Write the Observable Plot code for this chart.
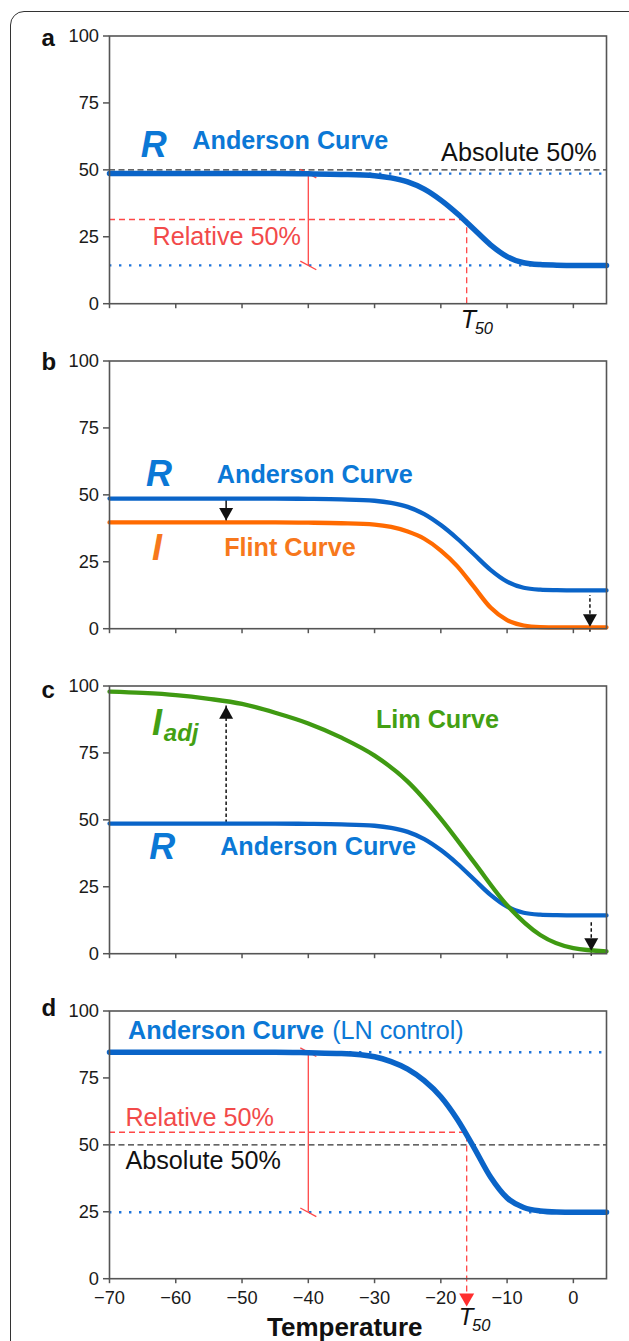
<!DOCTYPE html>
<html><head><meta charset="utf-8">
<script src="https://cdn.jsdelivr.net/npm/d3@7"></script>
<script src="https://cdn.jsdelivr.net/npm/@observablehq/plot@0.6"></script>
<style>
html,body{margin:0;padding:0;background:#fff;overflow:hidden}
#wrap{position:relative;width:629px;height:1341px;overflow:hidden}
#border{position:absolute;left:10px;top:11px;width:640px;height:1400px;border:1.5px solid #333;border-radius:14px;box-sizing:border-box}
.panel{position:absolute;left:0}
</style></head>
<body><div id="wrap"><div id="border"></div></div>
<script>
// ---------- data ----------
const xTicks = [-70, -60, -50, -40, -30, -20, -10, 0];
const yTicks = [0, 25, 50, 75, 100];

// Anderson curve (R), panels a-c
const andersonTemp = [-70, -45, -40, -35, -30, -27.5, -25, -22.5, -20, -17.5, -15, -12.5, -10, -7.5, -5, -2.5, 0, 5];
const andersonR    = [48.6, 48.6, 48.5, 48.3, 47.8, 47.0, 45.5, 42.8, 38.7, 33.6, 27.8, 22.0, 17.6, 15.3, 14.6, 14.4, 14.3, 14.3];
// Flint curve (I), panel b
const flintTemp = [-70, -45, -40, -35, -30, -27.5, -25, -22.5, -20, -17.5, -15, -12.5, -10, -7.5, -5, -2.5, 0, 5];
const flintI    = [39.7, 39.7, 39.6, 39.4, 38.9, 38.0, 36.3, 33.6, 29.2, 23.3, 15.6, 7.9, 3.2, 1.2, 0.6, 0.5, 0.5, 0.5];
// Lim curve (I_adj), panel c
const limTemp = [-70, -65, -60, -55, -50, -45, -40, -35, -30, -25, -20, -15, -10, -5, 0, 5];
const limIadj = [97.9, 97.4, 96.6, 95.2, 93.3, 90.0, 86.0, 80.7, 74.0, 64.3, 50.4, 34.2, 18.1, 7.0, 2.1, 0.9];
// Anderson curve (LN control), panel d
const lnTemp = [-70, -45, -40, -35, -30, -27.5, -25, -22.5, -20, -17.5, -15, -12.5, -10, -7.5, -5, -2.5, 0, 5];
const lnR    = [84.6, 84.6, 84.4, 84.1, 82.9, 81.1, 78.3, 74.0, 68.0, 59.5, 49.0, 38.0, 30.2, 26.6, 25.3, 24.9, 24.8, 24.8];

const t50A = -16.1;      // T50 read in panel a
const t50D = -16.1;      // T50 read in panel d
const absolute50 = 50;
const rangeTemp = -40;   // where the red range bar sits
const arrowLeftTemp = -52.4;
const arrowRightTempB = 2.5;
const arrowRightTempC = 2.7;
const limAtArrow = 94.3; // Lim curve value read at the arrow
const t50ArrowBase = -5; // red dashed guide runs below the axis to the red head

// ---------- helpers ----------
const rows = (xs, ys) => xs.map((x, i) => ({x, y: ys[i]}));
const first = a => a[0], last = a => a[a.length - 1];
const FONT = '"Liberation Sans", Arial, Helvetica, sans-serif';
const BLUE_LINE = "#0a64c8", BLUE_TEXT = "#0b78d6", DOT_BLUE = "#1f74da";
const ORANGE_LINE = "#ff6a00", ORANGE_TEXT = "#f7781c";
const GREEN_LINE = "#3f9a12", GREEN_TEXT = "#43a013";
const RED = "#ff4747", RED_TEXT = "#f24a4a", AXIS = "#555";
const minus = d => String(d).replace("-", "\u2212");
const LBL = 25.2;   // annotation label size
const SYM = 36;     // big italic symbol size

const slash = {draw(c) { c.moveTo(-8, -4.3); c.lineTo(8, 4.3); }};
const headDown = {draw(c) { c.moveTo(0, 0); c.lineTo(-7, -12.5); c.lineTo(7, -12.5); c.closePath(); }};
const headUp = {draw(c) { c.moveTo(0, 0); c.lineTo(-7, 12.5); c.lineTo(7, 12.5); c.closePath(); }};
const redHead = {draw(c) { c.moveTo(0, 0); c.lineTo(-7.5, -13); c.lineTo(7.5, -13); c.closePath(); }};

function txt(s, x, y, o = {}) {
  return Plot.text([s], {x, y, text: d => d, lineAnchor: "bottom", textAnchor: "start", fontFamily: FONT, fontSize: LBL, ...o});
}
function panelLetter(s, dy) {
  return Plot.text([s], {frameAnchor: "top-left", text: d => d, dx: -68, dy, lineAnchor: "bottom", textAnchor: "start",
    fontFamily: FONT, fontSize: 24, fontWeight: "bold", fill: "#111"});
}
function axes(labels) {
  const m = [
    Plot.axisY({ticks: yTicks, tickSize: 6, stroke: AXIS, strokeWidth: 1.5, tickFormat: () => "", label: null}),
    Plot.axisX({ticks: xTicks, tickSize: 5, stroke: AXIS, strokeWidth: 1.5, tickFormat: () => "", label: null}),
    Plot.text(yTicks, {y: d => d, text: d => String(d), frameAnchor: "left", dx: -10.5, textAnchor: "end", lineAnchor: "middle",
      fontFamily: FONT, fontSize: 18.3, fill: "#1a1a1a"}),
    Plot.frame({stroke: AXIS, strokeWidth: 1.6})
  ];
  if (labels) m.push(Plot.text(xTicks, {x: d => d, text: minus, frameAnchor: "bottom", dy: 12, lineAnchor: "top",
      fontFamily: FONT, fontSize: 18.3, fill: "#1a1a1a"}));
  return m;
}
function make(top, height, marks) {
  const p = Plot.plot({
    width: 629, height, marginLeft: 109, marginRight: 23, marginTop: 35.5, marginBottom: height - 35.5 - 267.7,
    x: {domain: [-70, 5]}, y: {domain: [0, 100]},
    style: {background: "transparent", overflow: "visible", fontFamily: FONT},
    marks
  });
  p.classList.add("panel");
  p.style.top = top + "px";
  p.style.position = "absolute";
  p.style.left = "0px";
  document.getElementById("wrap").appendChild(p);
}

const R = rows(andersonTemp, andersonR);
const upR = first(andersonR), loR = last(andersonR), relA = (upR + loR) / 2;
const upD = first(lnR), loD = last(lnR), relD = (upD + loD) / 2;

// ---------- panel a ----------
make(0, 325, [
  Plot.ruleY([absolute50], {stroke: "#333", strokeWidth: 1.4, strokeDasharray: "6,3.5"}),
  Plot.ruleY([upR, loR], {stroke: DOT_BLUE, strokeWidth: 2.4, strokeDasharray: "2.4,7.6"}),
  Plot.ruleY([relA], {x1: -70, x2: t50A, stroke: RED, strokeWidth: 1.3, strokeDasharray: "6,4"}),
  Plot.ruleX([t50A], {y1: 0, y2: relA, stroke: RED, strokeWidth: 1.3, strokeDasharray: "6,4"}),
  Plot.ruleX([rangeTemp], {y1: loR, y2: upR, stroke: RED, strokeWidth: 1.3}),
  Plot.dot([upR, loR], {x: rangeTemp, y: d => d, symbol: slash, r: 5, stroke: RED, strokeWidth: 1.3, fill: "none"}),
  Plot.line(R, {x: "x", y: "y", curve: "monotone-x", stroke: BLUE_LINE, strokeWidth: 5.5}),
  txt("R", -65.3, 54.8, {fontSize: SYM, fontWeight: "bold", fontStyle: "italic", fill: BLUE_TEXT}),
  txt("Anderson Curve", -57.5, 57.7, {fontWeight: "bold", fill: BLUE_TEXT}),
  txt("Absolute 50%", 3.5, 53.3, {textAnchor: "end", fill: "#111"}),
  txt("Relative 50%", -63.5, 21.8, {fill: RED_TEXT}),
  txt("T", -17.0, -8.9, {fontSize: 25, fontStyle: "italic", fill: "#111"}),
  txt("50", -14.9, -11.3, {fontSize: 16.5, fontStyle: "italic", fill: "#111"}),
  panelLetter("a", 9.5),
  ...axes(false)
]);

// ---------- panel b ----------
make(325, 325, [
  Plot.ruleX([arrowLeftTemp], {y1: first(flintI), y2: upR, stroke: "#111", strokeWidth: 1.5}),
  Plot.ruleX([arrowRightTempB], {y1: last(flintI), y2: loR, dy: 5, stroke: "#111", strokeWidth: 1.5, strokeDasharray: "3.5,2.5"}),
  Plot.line(R, {x: "x", y: "y", curve: "monotone-x", stroke: BLUE_LINE, strokeWidth: 4.3}),
  Plot.line(rows(flintTemp, flintI), {x: "x", y: "y", curve: "monotone-x", stroke: ORANGE_LINE, strokeWidth: 4.3}),
  Plot.dot([first(flintI)], {x: arrowLeftTemp, y: d => d, dy: -2, symbol: headDown, r: 5, fill: "#111", stroke: "none"}),
  Plot.dot([last(flintI)], {x: arrowRightTempB, y: d => d, dy: -0.5, symbol: headDown, r: 5, fill: "#111", stroke: "none"}),
  txt("R", -64.5, 53.4, {fontSize: SYM, fontWeight: "bold", fontStyle: "italic", fill: BLUE_TEXT}),
  txt("Anderson Curve", -53.8, 54.4, {fontWeight: "bold", fill: BLUE_TEXT}),
  txt("I", -63.6, 25.5, {fontSize: SYM, fontWeight: "bold", fontStyle: "italic", fill: ORANGE_TEXT}),
  txt("Flint Curve", -52.7, 27.1, {fontWeight: "bold", fill: ORANGE_TEXT}),
  panelLetter("b", 8.6),
  ...axes(false)
]);

// ---------- panel c ----------
make(650, 325, [
  Plot.ruleX([arrowLeftTemp], {y1: upR, y2: limAtArrow, stroke: "#111", strokeWidth: 1.5, strokeDasharray: "3.5,2.5"}),
  Plot.ruleX([arrowRightTempC], {y1: last(limIadj), y2: loR, dy: 5, stroke: "#111", strokeWidth: 1.5, strokeDasharray: "3.5,2.5"}),
  Plot.line(R, {x: "x", y: "y", curve: "monotone-x", stroke: BLUE_LINE, strokeWidth: 4.3}),
  Plot.line(rows(limTemp, limIadj), {x: "x", y: "y", curve: "monotone-x", stroke: GREEN_LINE, strokeWidth: 4.3}),
  Plot.dot([limAtArrow], {x: arrowLeftTemp, y: d => d, dy: 5, symbol: headUp, r: 5, fill: "#111", stroke: "none"}),
  Plot.dot([last(limIadj)], {x: arrowRightTempC, y: d => d, dy: -0.5, symbol: headDown, r: 5, fill: "#111", stroke: "none"}),
  txt("I", -63.6, 81.7, {fontSize: SYM, fontWeight: "bold", fontStyle: "italic", fill: GREEN_TEXT}),
  txt("adj", -61.8, 79.4, {fontSize: 24, fontWeight: "bold", fontStyle: "italic", fill: GREEN_TEXT}),
  txt("Lim Curve", -29.8, 84.2, {fontWeight: "bold", fill: GREEN_TEXT}),
  txt("R", -64.0, 35.2, {fontSize: SYM, fontWeight: "bold", fontStyle: "italic", fill: BLUE_TEXT}),
  txt("Anderson Curve", -53.3, 36.7, {fontWeight: "bold", fill: BLUE_TEXT}),
  panelLetter("c", 11.7),
  ...axes(false)
]);

// ---------- panel d ----------
make(975, 366, [
  Plot.ruleY([upD, loD], {stroke: DOT_BLUE, strokeWidth: 2.4, strokeDasharray: "2.4,7.6"}),
  Plot.ruleY([relD], {x1: -70, x2: t50D, stroke: RED, strokeWidth: 1.3, strokeDasharray: "6,4"}),
  Plot.ruleY([absolute50], {stroke: "#333", strokeWidth: 1.4, strokeDasharray: "6,3.5"}),
  Plot.ruleX([t50D], {y1: t50ArrowBase, y2: relD, stroke: RED, strokeWidth: 1.3, strokeDasharray: "6,4"}),
  Plot.ruleX([rangeTemp], {y1: loD, y2: upD, stroke: RED, strokeWidth: 1.3}),
  Plot.dot([upD, loD], {x: rangeTemp, y: d => d, symbol: slash, r: 5, stroke: RED, strokeWidth: 1.3, fill: "none"}),
  Plot.line(rows(lnTemp, lnR), {x: "x", y: "y", curve: "monotone-x", stroke: BLUE_LINE, strokeWidth: 5.5}),
  txt("Anderson Curve", -67.2, 89.6, {fontWeight: "bold", fill: BLUE_TEXT}),
  txt("(LN control)", -36.4, 89.6, {fill: BLUE_TEXT}),
  txt("Relative 50%", -67.6, 57.1, {fill: RED_TEXT}),
  txt("Absolute 50%", -67.6, 40.9, {fill: "#111"}),
  txt("Temperature", -34.5, -21.5, {textAnchor: "middle", fontWeight: "bold", fontSize: 26, fill: "#111"}),
  txt("T", -17.3, -17.4, {fontSize: 24, fontStyle: "italic", fill: "#111"}),
  txt("50", -15.3, -19.4, {fontSize: 16.5, fontStyle: "italic", fill: "#111"}),
  panelLetter("d", 5.3),
  ...axes(true),
  Plot.dot([t50D], {x: d => d, y: 0, dy: 27.7, symbol: redHead, r: 5, fill: "#ff2e2e", stroke: "none"})
]);
</script>
</body></html>
